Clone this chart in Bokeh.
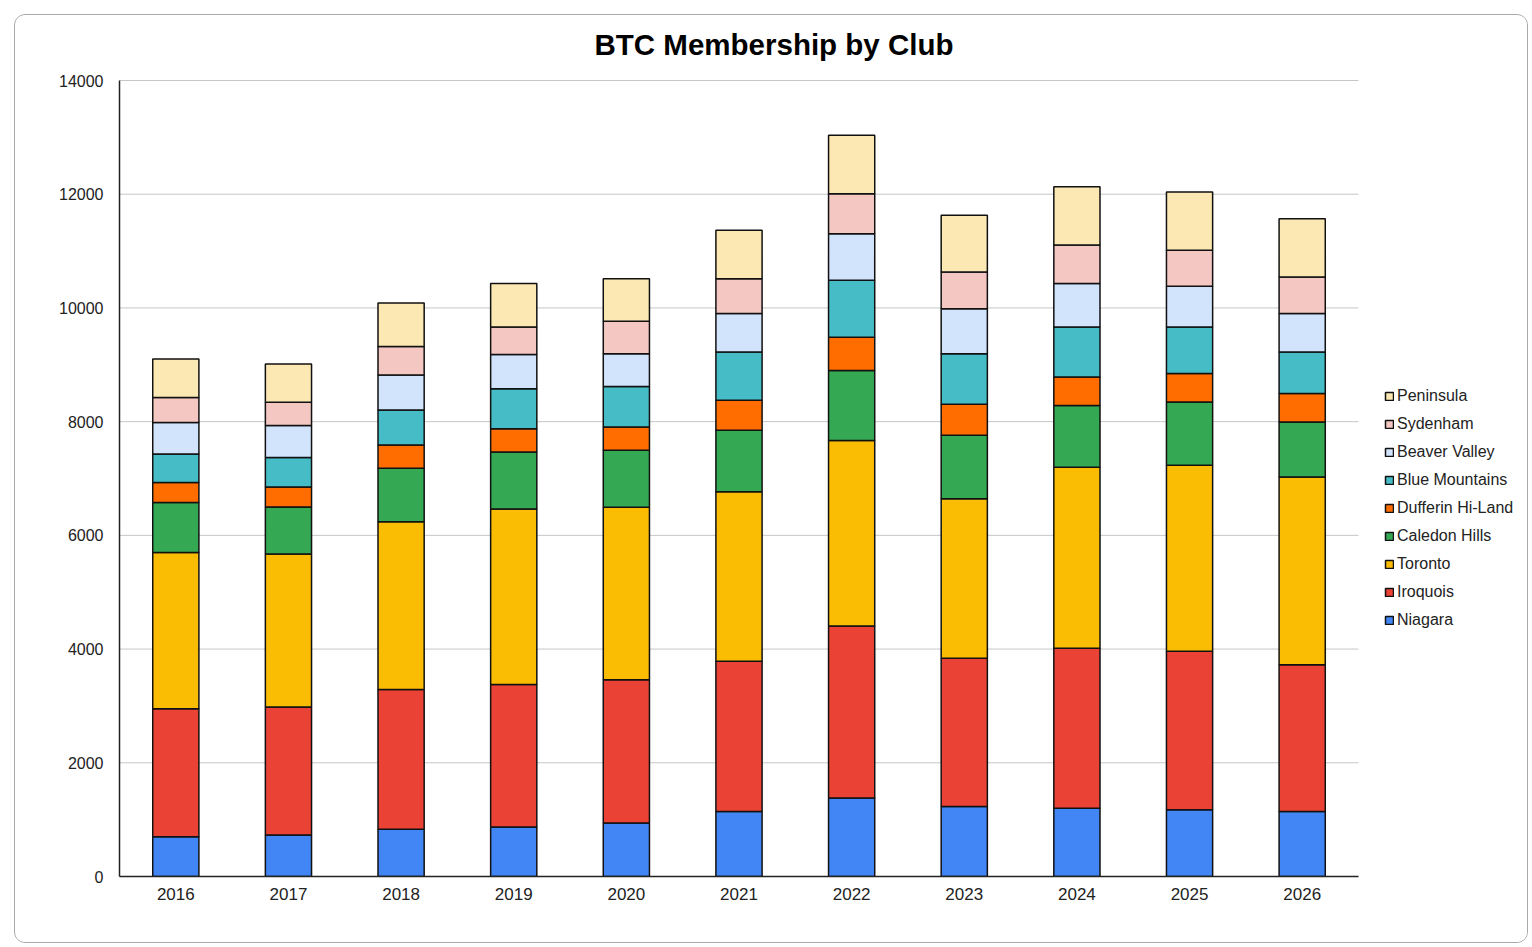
from bokeh.plotting import figure
from bokeh.models import (Range1d, FixedTicker, Legend, LegendItem, ColumnDataSource, Label)
from bokeh.embed import file_html
from bokeh.resources import INLINE

years = ["2016", "2017", "2018", "2019", "2020", "2021", "2022", "2023", "2024", "2025", "2026"]
clubs = ["Niagara", "Iroquois", "Toronto", "Caledon Hills", "Dufferin Hi-Land",
         "Blue Mountains", "Beaver Valley", "Sydenham", "Peninsula"]

niagara        = [700, 730, 830, 870, 940, 1145, 1380, 1230, 1200, 1175, 1145]
iroquois       = [2250, 2250, 2460, 2505, 2520, 2640, 3025, 2610, 2815, 2785, 2580]
toronto        = [2750, 2690, 2950, 3090, 3035, 2980, 3265, 2805, 3185, 3275, 3300]
caledon_hills  = [880, 830, 940, 1000, 1000, 1085, 1230, 1115, 1085, 1110, 970]
dufferin       = [350, 350, 410, 410, 410, 525, 585, 545, 500, 500, 500]
blue_mountains = [500, 520, 615, 705, 715, 850, 1000, 890, 880, 820, 730]
beaver_valley  = [555, 560, 615, 600, 575, 675, 820, 790, 765, 715, 675]
sydenham       = [440, 410, 500, 485, 570, 615, 705, 645, 675, 635, 645]
peninsula      = [675, 675, 765, 765, 750, 850, 1025, 1000, 1025, 1025, 1025]

colors = ["#4285F4", "#EA4335", "#FBBC04", "#34A853", "#FF6D01",
          "#46BDC6", "#D2E3FC", "#F4C7C3", "#FCE8B2"]

y_ticks = [0, 2000, 4000, 6000, 8000, 10000, 12000, 14000]
title_text = "BTC Membership by Club"

pos = list(range(len(years)))
data = {"x": pos, "year": years}
for name, vals in zip(clubs, [niagara, iroquois, toronto, caledon_hills, dufferin,
                              blue_mountains, beaver_valley, sydenham, peninsula]):
    data[name] = vals
source = ColumnDataSource(data)

FONT = "Liberation Sans"

# page geometry (px)
OFF = 15                      # canvas origin on the page (14px margin + 1px border)
W, H = 1514, 929              # canvas size
FL, FB = 119, 876             # frame left / bottom on the page
AXIS_TOP = 80                 # where the value 14000 sits on the page
BAR_AREA_RIGHT = 1358         # where the bar area (grid, axis) ends on the page
FT = OFF                      # frame top (extended up to hold the title)
FR = OFF + W - 2              # frame right (extended to hold the legend)
cat_px = (BAR_AREA_RIGHT - FL) / len(years)
x_start = -0.5
x_end = x_start + (FR - FL) / cat_px
n_end = len(years) - 0.5
y_top = y_ticks[-1] * (FB - FT) / (FB - AXIS_TOP)

p = figure(width=W, height=H, x_range=Range1d(x_start, x_end),
           y_range=Range1d(0, y_top), output_backend="svg", toolbar_location=None,
           min_border_left=FL - OFF, min_border_right=OFF + W - FR,
           min_border_top=FT - OFF, min_border_bottom=OFF + H - FB)
p.margin = (14, 0, 0, 14)
p.styles = {"border": "1px solid #a9a9a9", "border-radius": "11px", "overflow": "hidden"}
p.outline_line_color = None
p.background_fill_color = "white"
p.border_fill_color = "white"

# title, centred where the reference places it
title_x = (773.5 - FL) / cat_px + x_start
title_y = (FB - 44) / (FB - AXIS_TOP) * y_ticks[-1]
p.add_layout(Label(x=title_x, y=title_y, text=title_text, text_align="center",
                   text_baseline="alphabetic", text_font=FONT, text_font_size="29.5px",
                   text_font_style="bold", text_color="#000000"))

# horizontal grid lines limited to the bar area
p.segment(x0=x_start, x1=n_end, y0=y_ticks, y1=y_ticks, line_color="#c6c6c6", line_width=1)

renderers = p.vbar_stack(clubs, x="x", width=0.41, source=source, color=colors,
                         line_color="#111111", line_width=1.5)

p.xgrid.grid_line_color = None
p.ygrid.grid_line_color = None
p.yaxis.ticker = FixedTicker(ticks=y_ticks)
p.yaxis.bounds = (y_ticks[0], y_ticks[-1])
p.xaxis.ticker = FixedTicker(ticks=pos)
p.xaxis.major_label_overrides = {i: y for i, y in zip(pos, years)}
p.xaxis.bounds = (x_start, n_end)

for ax in (p.xaxis[0], p.yaxis[0]):
    ax.axis_line_color = "#222222"
    ax.axis_line_width = 1.5
    ax.major_tick_line_color = None
    ax.minor_tick_line_color = None
    ax.major_label_text_font = FONT
    ax.major_label_text_color = "#222222"
p.yaxis.major_label_text_font_size = "16px"
p.yaxis.major_label_standoff = 10
p.xaxis.major_label_text_font_size = "17px"
p.xaxis.major_label_standoff = 5
p.yaxis[0].formatter.use_scientific = False

items = [LegendItem(label=c, renderers=[r]) for c, r in zip(clubs, renderers)]
items.reverse()
legend = Legend(items=items, location=(1384 - FL, FB - 630), orientation="vertical",
                glyph_width=10, glyph_height=10, label_height=20, spacing=8,
                label_standoff=3, padding=0, margin=0, border_line_color=None,
                background_fill_alpha=0, label_text_font=FONT,
                label_text_font_size="16px", label_text_color="#222222")
p.add_layout(legend, "center")

open("out.html", "w").write(file_html(p, INLINE))
